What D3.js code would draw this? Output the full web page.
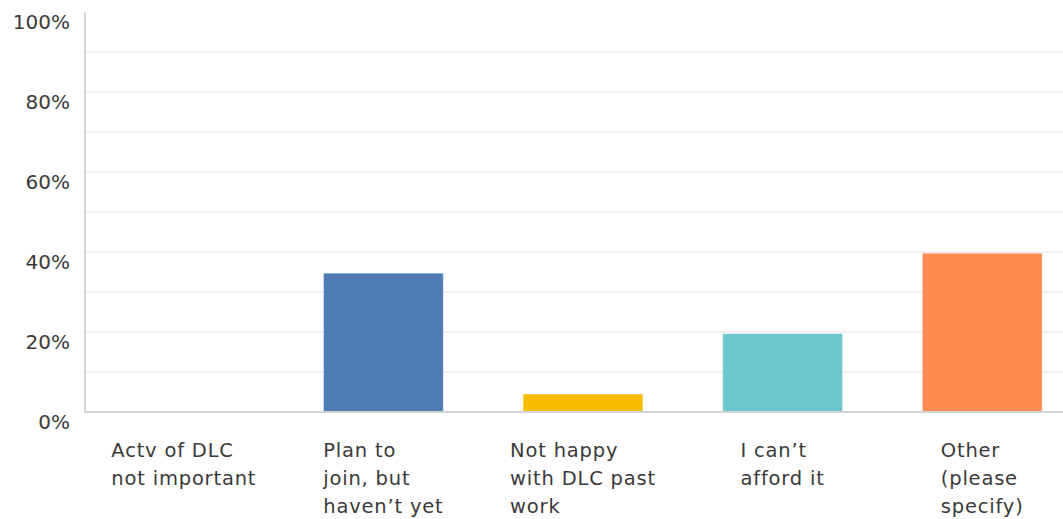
<!DOCTYPE html>
<html><head><meta charset="utf-8">
<script src="https://cdn.jsdelivr.net/npm/d3@7"></script>
<style>body{margin:0;background:#fff}svg{display:block}text{font-family:"DejaVu Sans",sans-serif}</style>
</head><body><svg id="c" width="1063" height="519"></svg>
<script>
const categories = ["Actv of DLC not important","Plan to join, but haven't yet","Not happy with DLC past work","I can't afford it","Other (please specify)"];
const labelLines = [["Actv of DLC","not important"],["Plan to","join, but","haven\u2019t yet"],["Not happy","with DLC past","work"],["I can\u2019t","afford it"],["Other","(please","specify)"]];
const values = [0, 34.7, 4.5, 19.6, 39.7];
const colors = ["#4f7cb5","#4f7cb5","#f7be00","#6cc8cc","#ff8b50"];
const tickValues = [0,20,40,60,80,100];
const gridValues = [10,20,30,40,50,60,70,80,90];

const svg = d3.select("#c");
const x = d3.scaleBand().domain(categories).range([84,1082]).paddingInner(0.4).paddingOuter(0.2);
const y = d3.scaleLinear().domain([0,100]).range([412,12]);

svg.append("g").selectAll("line").data(gridValues).join("line")
  .attr("x1",85).attr("x2",1063).attr("y1",d=>y(d)).attr("y2",d=>y(d))
  .attr("stroke","#ebebeb").attr("stroke-width",1.5);

svg.append("g").selectAll("rect").data(values).join("rect")
  .attr("x",(d,i)=>x(categories[i])).attr("width",x.bandwidth())
  .attr("y",d=>y(d)).attr("height",d=>y(0)-y(d))
  .attr("fill",(d,i)=>colors[i]).attr("stroke","rgba(255,255,255,0.35)").attr("stroke-width",1);

svg.append("line").attr("x1",85).attr("x2",85).attr("y1",y(100)).attr("y2",y(0)+1)
  .attr("stroke","#d4d4d4").attr("stroke-width",2);
svg.append("line").attr("x1",84).attr("x2",1063).attr("y1",y(0)).attr("y2",y(0))
  .attr("stroke","#d4d4d4").attr("stroke-width",2);

svg.append("g").selectAll("text").data(tickValues).join("text")
  .attr("x",70).attr("y",d=>y(d)+10).attr("dy","0.35em").attr("text-anchor","end")
  .attr("font-size",20).attr("fill","#3a3a3a").text(d=>d+"%");

const lg = svg.append("g");
labelLines.forEach((lines,i)=>{
  const cx = x(categories[i]) + x.bandwidth()/2;
  const t = lg.append("text").attr("font-size",19.5).attr("letter-spacing",0.8).attr("fill","#3a3a3a");
  lines.forEach((l,j)=>t.append("tspan").attr("y",457+j*28).text(l));
  let maxW = 0;
  t.selectAll("tspan").each(function(){maxW=Math.max(maxW,this.getComputedTextLength());});
  t.selectAll("tspan").attr("x",cx-maxW/2);
});
</script></body></html>
